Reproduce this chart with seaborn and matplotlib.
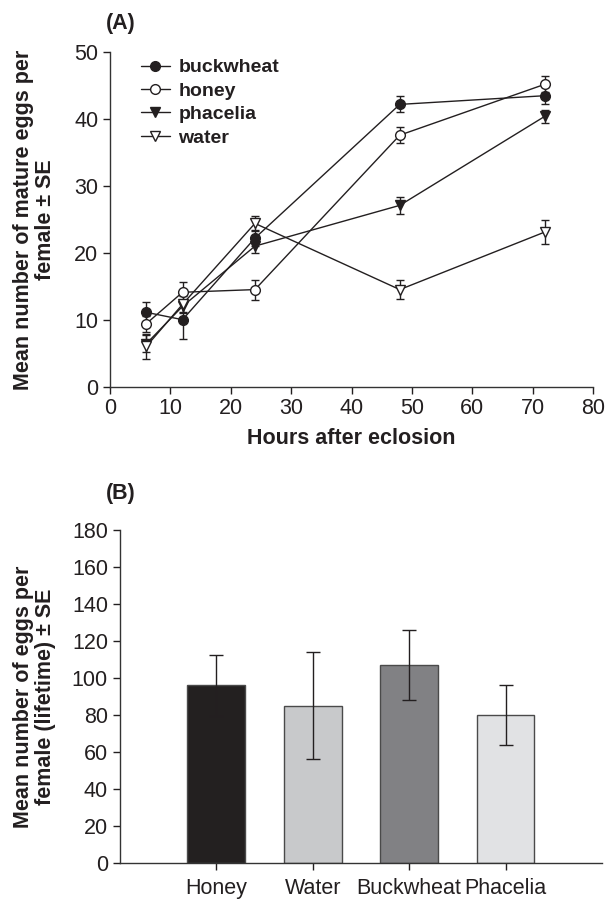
import matplotlib
matplotlib.use("Agg")
import matplotlib.pyplot as plt
import numpy as np
import pandas as pd
import seaborn as sns

# Panel A: mature eggs over time
hours = [6, 12, 24, 48, 72]
buckwheat_mean = [11.1, 10.0, 22.2, 42.2, 43.5]
buckwheat_se = [1.5, 2.9, 1.2, 1.2, 1.3]
honey_mean = [9.4, 14.1, 14.5, 37.6, 45.2]
honey_se = [1.2, 1.6, 1.5, 1.2, 1.2]
phacelia_mean = [6.4, 12.0, 21.0, 27.1, 40.4]
phacelia_se = [1.3, 1.0, 1.0, 1.3, 1.0]
water_mean = [6.0, 12.3, 24.4, 14.5, 23.1]
water_se = [1.9, 1.2, 1.1, 1.4, 1.8]

# Panel B: lifetime eggs
diets = ["Honey", "Water", "Buckwheat", "Phacelia"]
lifetime_mean = [96, 85, 107, 80]
lifetime_se = [16.5, 29, 19, 16]
bar_colors = ["#231f20", "#c8c9cb", "#808184", "#e1e2e4"]

sns.set_theme(style="ticks")
plt.rcParams["font.family"] = ["Liberation Sans", "DejaVu Sans"]
INK = "#231f20"
plt.rcParams.update({
    "text.color": INK, "axes.labelcolor": INK, "xtick.color": INK,
    "ytick.color": INK, "axes.edgecolor": "#333333",
})

fig = plt.figure(figsize=(6.05, 9.01), dpi=100)
ax_a = fig.add_axes([0.182, 0.571, 0.798, 0.371])
ax_b = fig.add_axes([0.198, 0.042, 0.797, 0.370])

series = [
    ("buckwheat", buckwheat_mean, buckwheat_se, "o", INK),
    ("honey", honey_mean, honey_se, "o", "white"),
    ("phacelia", phacelia_mean, phacelia_se, "v", INK),
    ("water", water_mean, water_se, "v", "white"),
]
for name, mean, se, marker, face in series:
    df = pd.DataFrame({"hours": hours, "eggs": mean})
    ax_a.errorbar(hours, mean, yerr=se, fmt="none", ecolor=INK,
                  elinewidth=1, capsize=3, capthick=1, zorder=2)
    sns.lineplot(data=df, x="hours", y="eggs", ax=ax_a, color=INK,
                 linewidth=1, marker=marker, markersize=7,
                 markerfacecolor=face, markeredgecolor=INK,
                 markeredgewidth=1, label=name, zorder=3)

ax_a.set_xlim(0, 80)
ax_a.set_ylim(0, 50)
ax_a.set_xticks(range(0, 81, 10))
ax_a.set_yticks(range(0, 51, 10))
ax_a.set_xlabel("Hours after eclosion", fontsize=15.5, fontweight="bold",
                labelpad=6)
ax_a.set_ylabel("Mean number of mature eggs per\nfemale ± SE",
                fontsize=15.5, fontweight="bold", linespacing=1.05)
ax_a.yaxis.set_label_coords(-0.112, 0.5)
ax_a.legend(loc="upper left", bbox_to_anchor=(0.027, 1.033), frameon=False,
            prop={"size": 14, "weight": "bold"}, handlelength=1.5,
            handletextpad=0.45, labelspacing=0.3)
sns.despine(ax=ax_a)

sns.barplot(x=diets, y=lifetime_mean, hue=diets, palette=bar_colors,
            legend=False, width=0.6, edgecolor="#4a4a4a", linewidth=1,
            ax=ax_b)
ax_b.errorbar(diets, lifetime_mean, yerr=lifetime_se, fmt="none",
              ecolor=INK, elinewidth=1, capsize=5, capthick=1)
ax_b.set_xlim(-1, 4)
ax_b.set_ylim(0, 180)
ax_b.set_yticks(range(0, 181, 20))
ax_b.set_xlabel("")
ax_b.set_ylabel("Mean number of eggs per\nfemale (lifetime) ± SE",
                fontsize=15.5, fontweight="bold", linespacing=1.05)
ax_b.yaxis.set_label_coords(-0.133, 0.5)
sns.despine(ax=ax_b)

for ax in (ax_a, ax_b):
    ax.tick_params(labelsize=15.5, length=5, width=1, direction="out")
    for sp in ax.spines.values():
        sp.set_linewidth(1)
ax_b.tick_params(axis="x", pad=6)

fig.text(106 / 605, 1 - 23 / 901, "(A)", fontsize=15.5, fontweight="bold",
         va="center", ha="left")
fig.text(106 / 605, 1 - 494 / 901, "(B)", fontsize=15.5, fontweight="bold",
         va="center", ha="left")

fig.savefig("out.png", dpi=100)
